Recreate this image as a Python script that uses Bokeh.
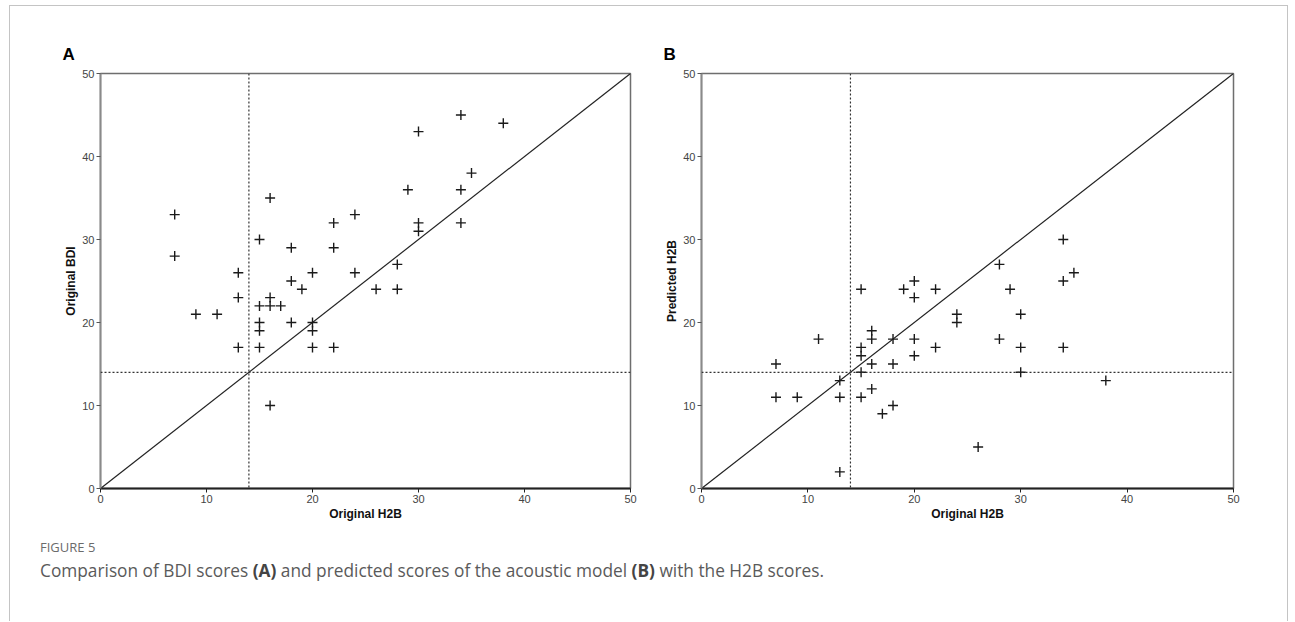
from bokeh.plotting import figure
from bokeh.layouts import row, column
from bokeh.models import Div, Span, FixedTicker
from bokeh.embed import file_html
from bokeh.resources import INLINE

# Panel A: Original H2B vs Original BDI
a_x = [7, 7, 9, 11, 13, 13, 13, 15, 15, 15, 15, 15, 16, 16, 16, 16, 17, 18, 18, 18, 19,
       20, 20, 20, 20, 22, 22, 22, 24, 24, 26, 28, 28, 29, 30, 30, 30, 34, 34, 34, 35, 38]
a_y = [33, 28, 21, 21, 26, 23, 17, 30, 22, 20, 19, 17, 35, 23, 22, 10, 22, 29, 25, 20, 24,
       26, 20, 19, 17, 32, 29, 17, 33, 26, 24, 27, 24, 36, 43, 32, 31, 45, 36, 32, 38, 44]

# Panel B: Original H2B vs Predicted H2B
b_x = [7, 7, 9, 11, 13, 13, 13, 15, 15, 15, 15, 15, 16, 16, 16, 16, 17, 18, 18, 18, 19,
       20, 20, 20, 20, 22, 22, 24, 24, 26, 28, 28, 29, 30, 30, 30, 34, 34, 34, 35, 38]
b_y = [15, 11, 11, 18, 13, 11, 2, 24, 17, 16, 14, 11, 19, 18, 15, 12, 9, 18, 15, 10, 24,
       25, 23, 18, 16, 24, 17, 21, 20, 5, 27, 18, 24, 21, 17, 14, 30, 25, 17, 26, 13]

ticks = [0, 10, 20, 30, 40, 50]
axis_min, axis_max = 0, 50
diag = [0, 50]
cutoff = 14

FIG_H = 519


def panel(xs, ys, xlabel, ylabel, letter, w, bl, br):
    p = figure(width=w, height=FIG_H, x_range=(axis_min, axis_max), y_range=(axis_min, axis_max),
               output_backend="svg", toolbar_location=None,
               min_border_left=bl, min_border_right=br, min_border_top=67, min_border_bottom=37)
    p.xgrid.visible = False
    p.ygrid.visible = False
    p.background_fill_color = "white"
    p.border_fill_color = "white"
    p.outline_line_color = "#6e6e6e"
    p.outline_line_width = 1.5

    p.title.text = letter
    p.title.align = "left"
    p.title.offset = -38
    p.title.standoff = 20
    p.title.text_font = "Liberation Sans"
    p.title.text_font_style = "bold"
    p.title.text_font_size = "17px"
    p.title.text_color = "black"

    for ax, lab in ((p.xaxis[0], xlabel), (p.yaxis[0], ylabel)):
        ax.ticker = FixedTicker(ticks=ticks)
        ax.minor_tick_line_color = None
        ax.major_tick_in = 0
        ax.major_tick_out = 4
        ax.axis_label = lab
        ax.axis_label_text_font = "Liberation Sans"
        ax.axis_label_text_font_style = "bold"
        ax.axis_label_text_font_size = "12px"
        ax.axis_label_text_color = "#111111"
        ax.major_label_text_font = "Liberation Sans"
        ax.major_label_text_font_size = "11px"
        ax.major_label_text_color = "#444444"
        ax.major_label_standoff = 2
        ax.axis_label_standoff = 1
    p.xaxis.axis_line_color = "#222222"
    p.xaxis.axis_line_width = 1.8
    p.xaxis.major_tick_line_color = "#222222"
    p.yaxis.axis_line_color = "#8a8a8a"
    p.yaxis.axis_line_width = 1.8
    p.yaxis.major_tick_line_color = "#555555"

    p.add_layout(Span(location=cutoff, dimension="height", line_color="#333333",
                      line_dash="2 2", line_width=1.2))
    p.add_layout(Span(location=cutoff, dimension="width", line_color="#333333",
                      line_dash="2 2", line_width=1.2))
    p.line(diag, diag, line_color="#222222", line_width=1.2)
    p.scatter(xs, ys, marker="cross", size=10, line_color="#1a1a1a", line_width=1.4)
    return p


pA = panel(a_x, a_y, "Original H2B", "Original BDI", "A", 640, 90, 20)
pB = panel(b_x, b_y, "Original H2B", "Predicted H2B", "B", 637, 51, 54)

cap = Div(text=(
    '<div style="font-family:\'Open Sans\'; color:#6b6b6b; font-size:13px; margin:13px 0 0 30px;">FIGURE 5</div>'
    '<div style="font-family:\'Open Sans\'; color:#5a5a5a; font-size:17.3px; margin:2px 0 0 30px; white-space:nowrap;">'
    'Comparison of BDI scores <b style="color:#444">(A)</b> and predicted scores of the acoustic model '
    '<b style="color:#444">(B)</b> with the H2B scores.</div>'),
    width=1277, height=96, margin=0)

layout = column(row(pA, pB, margin=0), cap, margin=(5, 8, 0, 9),
                styles={"border-top": "1px solid #c4c4c4", "border-left": "1px solid #c4c4c4",
                        "border-right": "1px solid #c4c4c4", "background": "white"})

open("out.html", "w").write(file_html(layout, INLINE))
